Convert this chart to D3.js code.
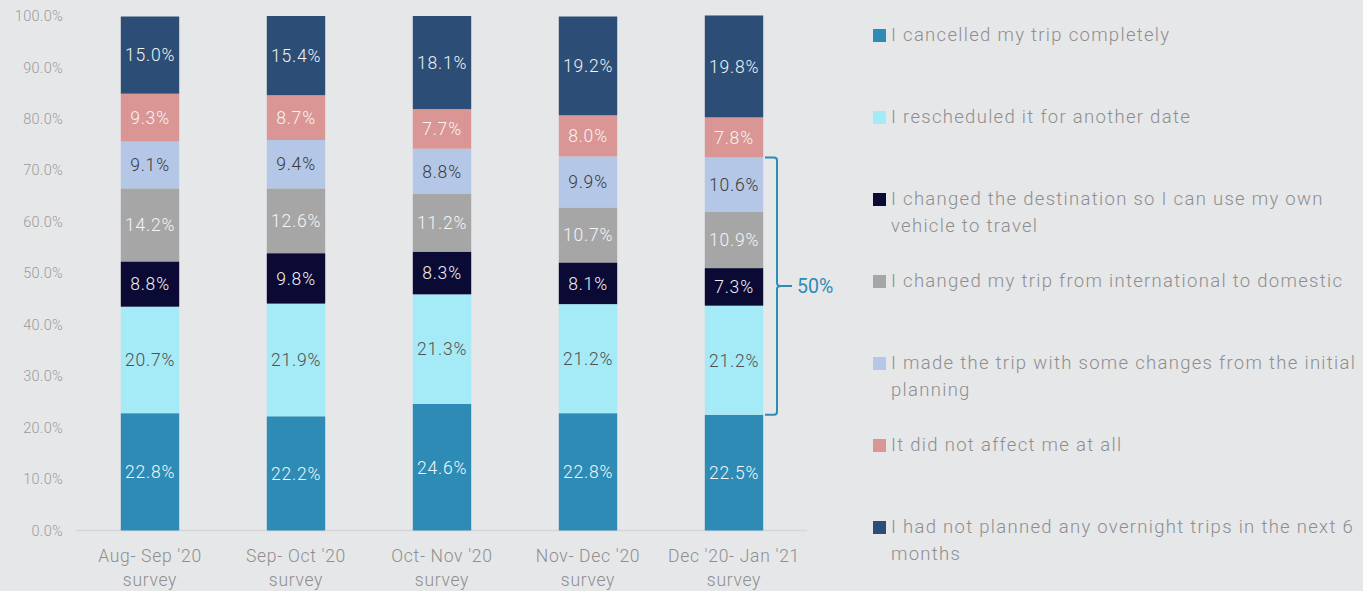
<!DOCTYPE html>
<html>
<head>
<meta charset="utf-8">
<script src="https://cdn.jsdelivr.net/npm/d3@7"></script>
<style>
  html, body { margin: 0; padding: 0; background: #E6E7E9; }
  svg { display: block; font-family: Roboto, "DejaVu Sans", sans-serif; }
</style>
</head>
<body>
<svg id="chart" width="1363" height="591"></svg>
<script>
// Survey waves (x categories), each label split into two lines
const surveys = ["Aug- Sep '20|survey", "Sep- Oct '20|survey", "Oct- Nov '20|survey", "Nov- Dec '20|survey", "Dec '20- Jan '21|survey"];

// Response options, bottom to top of each stack
const seriesNames = [
  "I cancelled my trip completely",
  "I rescheduled it for another date",
  "I changed the destination so I can use my own|vehicle to travel",
  "I changed my trip from international to domestic",
  "I made the trip with some changes from the initial|planning",
  "It did not affect me at all",
  "I had not planned any overnight trips in the next 6|months"
];

// Share of respondents (%) per option, one value per survey wave
const cancelled     = [22.8, 22.2, 24.6, 22.8, 22.5];
const rescheduled   = [20.7, 21.9, 21.3, 21.2, 21.2];
const ownVehicle    = [8.8, 9.8, 8.3, 8.1, 7.3];
const domestic      = [14.2, 12.6, 11.2, 10.7, 10.9];
const madeTrip      = [9.1, 9.4, 8.8, 9.9, 10.6];
const notAffected   = [9.3, 8.7, 7.7, 8.0, 7.8];
const notPlanned    = [15.0, 15.4, 18.1, 19.2, 19.8];

const yTicks = [0, 10, 20, 30, 40, 50, 60, 70, 80, 90, 100];

const seriesValues = [cancelled, rescheduled, ownVehicle, domestic, madeTrip, notAffected, notPlanned];
const colors = ["#2E8BB5", "#A5EAF7", "#0A0A35", "#A6A6A6", "#B4C7E7", "#DA9694", "#2C4D75"];
const labelColors = ["#F2F6F8", "#505050", "#F2F2F2", "#F5F5F5", "#3A3A3A", "#F5F5F5", "#F2F2F2"];

const svg = d3.select("#chart");

const x = d3.scaleBand().domain(surveys).range([77, 807]).paddingInner(0.6).paddingOuter(0.3);
const y = d3.scaleLinear().domain([0, 100]).range([530.5, 16]);

// Stack table
const rows = surveys.map((s, i) => {
  const r = { survey: s };
  seriesNames.forEach((n, k) => r[n] = seriesValues[k][i]);
  return r;
});
const stacked = d3.stack().keys(seriesNames)(rows);

// Y axis tick labels
const yAxis = d3.axisLeft(y).tickValues(yTicks).tickFormat(d => d3.format(".1f")(d) + "%").tickSize(0).tickPadding(0);
const gy = svg.append("g").attr("transform", "translate(63,0)").call(yAxis);
gy.select(".domain").remove();
gy.selectAll("text").attr("fill", "#9B9B9B").style("font-size", "14.5px").style("font-weight", 300)
  .style("letter-spacing", "0.3px").style("font-family", "Roboto, sans-serif");

// Baseline
svg.append("line").attr("x1", 76).attr("x2", 807).attr("y1", y(0)).attr("y2", y(0))
  .attr("stroke", "#D6D6D8").attr("stroke-width", 1.5);

// Bars
const layers = svg.append("g").selectAll("g").data(stacked).join("g").attr("fill", (d, k) => colors[k]);
layers.selectAll("rect").data(d => d).join("rect")
  .attr("x", d => x(d.data.survey))
  .attr("width", x.bandwidth())
  .attr("y", d => y(d[1]))
  .attr("height", d => y(d[0]) - y(d[1]));

// Segment value labels
const labelLayers = svg.append("g").selectAll("g").data(stacked).join("g");
labelLayers.each(function(layer, k) {
  d3.select(this).selectAll("text").data(layer).join("text")
    .attr("x", d => x(d.data.survey) + x.bandwidth() / 2)
    .attr("y", d => (y(d[0]) + y(d[1])) / 2)
    .attr("dy", "0.36em")
    .attr("text-anchor", "middle")
    .attr("fill", labelColors[k])
    .style("font-size", "17.5px")
    .style("font-weight", 300)
    .style("letter-spacing", "0.8px")
    .text(d => d3.format(".1f")(d[1] - d[0]) + "%");
});

// X axis labels (two lines)
const xl = svg.append("g").selectAll("text").data(surveys).join("text")
  .attr("x", d => x(d) + x.bandwidth() / 2)
  .attr("y", 562)
  .attr("text-anchor", "middle")
  .attr("fill", "#8E8E8E")
  .style("font-size", "17.5px")
  .style("font-weight", 300)
  .style("letter-spacing", "0.7px");
xl.each(function(d) {
  const parts = d.split("|");
  d3.select(this).selectAll("tspan").data(parts).join("tspan")
    .attr("x", x(d) + x.bandwidth() / 2)
    .attr("dy", (p, i) => i === 0 ? 0 : 24)
    .text(p => p);
});

// Bracket around the middle options in the last wave
const last = surveys.length - 1;
const bTop = y(stacked[4][last][1]);
const bBot = y(stacked[1][last][0]);
const bMid = (bTop + bBot) / 2;
const bx = 777, r = 3;
const bracketPath = `M765,${bTop} L${bx - r},${bTop} Q${bx},${bTop} ${bx},${bTop + r} L${bx},${bMid - 3} Q${bx},${bMid} ${bx + 4},${bMid} L${bx + 15},${bMid} M${bx + 4},${bMid} Q${bx},${bMid} ${bx},${bMid + 3} L${bx},${bBot - r} Q${bx},${bBot} ${bx - r},${bBot} L765,${bBot}`;
svg.append("path").attr("d", bracketPath).attr("fill", "none").attr("stroke", "#2E8BB5").attr("stroke-width", 2);
const span = stacked[4][last][1] - stacked[1][last][0];
svg.append("text").attr("x", 797).attr("y", bMid).attr("dy", "0.36em")
  .attr("fill", "#2E8BB5").style("font-size", "19.5px").style("font-weight", 400)
  .text(d3.format(".0f")(span) + "%");

// Legend
const legend = svg.append("g").selectAll("g").data(seriesNames).join("g")
  .attr("transform", (d, k) => `translate(873,${35.5 + k * 82})`);
legend.append("rect").attr("x", 0).attr("y", -6.5).attr("width", 13).attr("height", 13)
  .attr("fill", (d, k) => colors[k]);
legend.append("text")
  .attr("x", 18).attr("y", 5)
  .attr("fill", "#8E8E8E")
  .style("font-size", "18.5px")
  .style("font-weight", 300)
  .style("letter-spacing", "1.3px")
  .each(function(d) {
    d3.select(this).selectAll("tspan").data(d.split("|")).join("tspan")
      .attr("x", 18).attr("dy", (p, i) => i === 0 ? 0 : 27).text(p => p);
  });
</script>
</body>
</html>
